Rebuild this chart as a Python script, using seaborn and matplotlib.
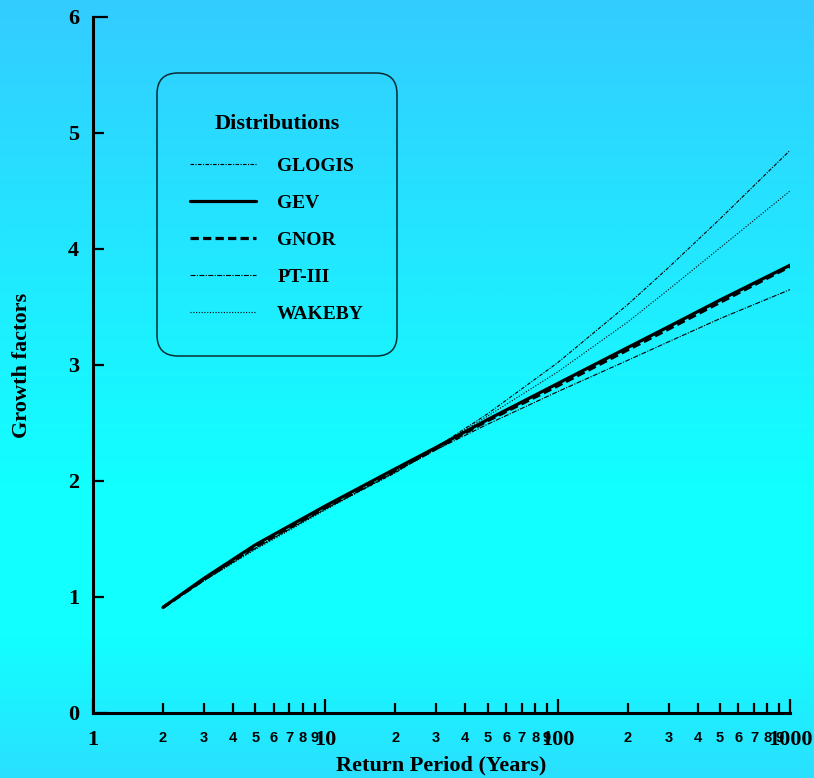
import numpy as np
import pandas as pd
import matplotlib
matplotlib.use("Agg")
import matplotlib.pyplot as plt
from matplotlib.colors import LinearSegmentedColormap
from matplotlib.ticker import LogLocator, FixedLocator, FuncFormatter
from matplotlib.offsetbox import DrawingArea, VPacker
import seaborn as sns

# Growth factor curves by return period
return_period = [2, 3, 5, 10, 20, 30, 50, 100, 200, 300, 500, 1000]
glogis = [0.91, 1.14, 1.42, 1.76, 2.07, 2.29, 2.58, 3.02, 3.52, 3.84, 4.26, 4.85]
gev    = [0.91, 1.16, 1.45, 1.785, 2.105, 2.29, 2.53, 2.84, 3.15, 3.33, 3.56, 3.86]
gnor   = [0.91, 1.15, 1.44, 1.77, 2.09, 2.28, 2.52, 2.82, 3.13, 3.31, 3.54, 3.85]
pt3    = [0.91, 1.15, 1.42, 1.76, 2.08, 2.27, 2.49, 2.77, 3.04, 3.20, 3.40, 3.65]
wakeby = [0.91, 1.14, 1.41, 1.75, 2.08, 2.29, 2.56, 2.94, 3.37, 3.65, 4.01, 4.50]

names = ["GLOGIS", "GEV", "GNOR", "PT-III", "WAKEBY"]
series = [glogis, gev, gnor, pt3, wakeby]

x_major = [1, 10, 100, 1000]
y_major = [0, 1, 2, 3, 4, 5, 6]

df = pd.concat(
    [pd.DataFrame({"T": return_period, "GF": vals, "Distribution": nm})
     for nm, vals in zip(names, series)],
    ignore_index=True,
)

sns.set_theme(style="ticks")
plt.rcParams["font.family"] = ["Liberation Serif", "DejaVu Serif"]
plt.rcParams["font.weight"] = "bold"
plt.rcParams["lines.scale_dashes"] = False
for key in ("text.color", "axes.labelcolor", "xtick.color", "ytick.color",
            "xtick.labelcolor", "ytick.labelcolor", "axes.edgecolor"):
    plt.rcParams[key] = "black"

fig = plt.figure(figsize=(8.14, 7.78), dpi=100)

# vertical gradient backdrop
bg = fig.add_axes([0, 0, 1, 1], zorder=-10)
cmap = LinearSegmentedColormap.from_list(
    "bg",
    [(0.0, "#33CCFF"), (0.40, "#1EEEFF"), (0.62, "#11FFFF"),
     (0.82, "#11FFFF"), (1.0, "#2AE0FF")],
)
grad = np.linspace(0, 1, 400).reshape(-1, 1)
bg.imshow(grad, aspect="auto", cmap=cmap, extent=[0, 1, 0, 1], origin="upper")
bg.set_axis_off()

ax = fig.add_axes([93 / 814, 65 / 778, 697 / 814, 696 / 778])
ax.set_facecolor("none")

palette = {n: "black" for n in names}
dashes = {
    "GLOGIS": (2.6, 1.0, 0.8, 1.0),
    "GEV": "",
    "GNOR": (6, 3),
    "PT-III": (3.6, 1.0, 0.8, 1.0),
    "WAKEBY": (0.8, 1.2),
}
sizes = {"GLOGIS": 0.8, "GEV": 2.3, "GNOR": 2.3, "PT-III": 0.8, "WAKEBY": 0.8}

sns.lineplot(
    data=df, x="T", y="GF", hue="Distribution", style="Distribution",
    size="Distribution", hue_order=names, style_order=names, size_order=names,
    palette=palette, dashes=dashes, sizes=sizes, legend=False, ax=ax,
    estimator=None, sort=False,
)

ax.set_xscale("log")
ax.set_xlim(1, 1000)
ax.set_ylim(0, 6)
sns.despine(ax=ax)
for s in ("left", "bottom"):
    ax.spines[s].set_linewidth(2.2)
    ax.spines[s].set_color("black")

ax.xaxis.set_major_locator(FixedLocator(x_major))
ax.xaxis.set_major_formatter(FuncFormatter(lambda v, _: f"{v:g}"))
ax.xaxis.set_minor_locator(LogLocator(base=10, subs=np.arange(2, 10), numticks=30))
ax.xaxis.set_minor_formatter(
    FuncFormatter(lambda v, _: f"{int(round(v / 10 ** np.floor(np.log10(v) + 1e-9)))}")
)
ax.set_yticks(y_major)
ax.yaxis.set_major_formatter(FuncFormatter(lambda v, _: f"{v:g}"))

ax.tick_params(axis="x", which="major", direction="in", length=10, width=1.6,
               labelsize=16, pad=12.5, colors="black")
ax.tick_params(axis="x", which="minor", direction="in", length=7, width=1.6,
               labelsize=10.5, pad=13, labelfontfamily="Liberation Sans",
               colors="black")
ax.tick_params(axis="y", which="major", direction="in", length=8, width=1.6,
               labelsize=16, pad=10, colors="black")
yt = ax.yaxis.get_major_ticks()
for t in (yt[0], yt[-1]):
    t.tick1line.set_markersize(11)

ax.set_xlabel("Return Period (Years)", fontsize=16, fontweight="bold")
ax.set_ylabel("Growth factors", fontsize=16, fontweight="bold")
ax.xaxis.set_label_coords(0.5, (713 - 765) / 696)
ax.xaxis.label.set_va("center")
ax.yaxis.set_label_coords((22.5 - 93) / 697, 0.5)
ax.yaxis.label.set_va("center")

handles = ax.lines[:len(names)]
leg = ax.legend(
    handles, names, title="Distributions",
    loc="upper left", bbox_to_anchor=(157 / 814, (778 - 73) / 778),
    bbox_transform=fig.transFigure, borderaxespad=0,
    prop={"family": "Liberation Serif", "weight": "bold", "size": 14},
    title_fontproperties={"family": "Liberation Serif", "weight": "bold", "size": 16},
    handlelength=3.4, handletextpad=1.08, labelspacing=1.0, borderpad=1.7,
    frameon=True, fancybox=True,
)
# extra breathing room above and below the legend title
title_block = VPacker(
    children=[DrawingArea(1, 5.5), leg._legend_title_box, DrawingArea(1, 3.0)],
    pad=0, sep=0, align="center",
)
leg._legend_box._children[0] = title_block

frame = leg.get_frame()
frame.set_facecolor("none")
frame.set_edgecolor("black")
frame.set_linewidth(1.1)
frame.set_boxstyle("round", pad=0, rounding_size=1.1)

fig.savefig("out.png", dpi=100)
